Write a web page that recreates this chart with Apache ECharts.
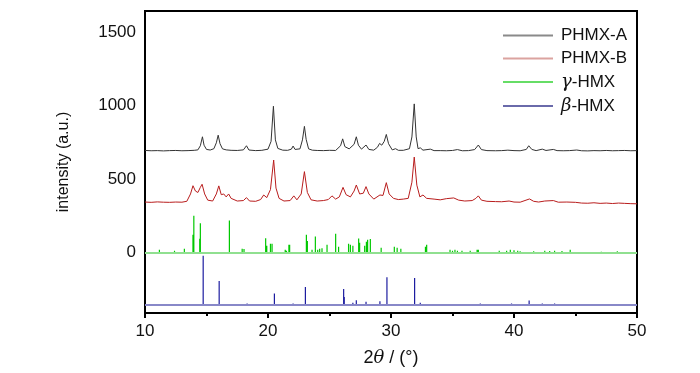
<!DOCTYPE html>
<html><head><meta charset="utf-8">
<script src="https://cdn.jsdelivr.net/npm/echarts@6/dist/echarts.min.js"></script>
<style>html,body{margin:0;padding:0;background:#fff}#c{width:700px;height:373px}</style>
</head><body><div id="c"></div>
<script>
// ---- data ----
const seriesNames = ['PHMX-A', 'PHMX-B', 'γ-HMX', 'β-HMX'];
const yTickLabels = [0, 500, 1000, 1500];
const xTickLabels = [10, 20, 30, 40, 50];

// PHMX-A pattern [2θ, intensity]
const phmxA = [[10,696],[10.5,694],[11,695],[11.5,693],[12,695],[12.5,696],[13,694],[13.5,695],[14,697],[14.3,700],[14.5,728],[14.67,789],[14.8,732],[15,703],[15.3,699],[15.6,708],[15.8,748],[15.95,800],[16.1,742],[16.3,707],[16.6,700],[17,697],[17.5,696],[18,700],[18.25,728],[18.45,699],[19,695],[19.5,697],[20,705],[20.25,758],[20.44,997],[20.6,768],[20.8,710],[21.2,698],[21.6,697],[21.9,705],[22.04,726],[22.2,703],[22.6,707],[22.8,768],[22.96,860],[23.1,772],[23.3,707],[23.6,698],[24,696],[24.5,695],[25,697],[25.5,696],[25.9,728],[26.07,775],[26.25,722],[26.6,707],[27,738],[27.18,789],[27.35,732],[27.6,705],[27.97,733],[28.2,703],[28.6,698],[28.9,718],[29.07,744],[29.25,732],[29.45,758],[29.62,805],[29.8,742],[30.1,700],[30.37,708],[30.6,697],[31,697],[31.5,708],[31.7,788],[31.89,1013],[32.05,788],[32.2,708],[32.38,714],[32.6,698],[33.2,705],[33.5,695],[34,695],[34.5,694],[35,696],[35.4,702],[35.8,694],[36.3,695],[36.8,702],[37.1,733],[37.35,702],[37.8,695],[38.5,694],[39,695],[39.5,698],[40,695],[40.5,694],[41,703],[41.2,728],[41.45,703],[41.8,695],[42.3,705],[42.6,696],[43.2,703],[43.5,695],[44,694],[44.5,695],[45.1,699],[45.5,694],[46,693],[46.5,695],[47,694],[47.5,696],[48,694],[48.5,695],[49,696],[49.5,694],[50,695]];

// PHMX-B pattern [2θ, intensity]
const phmxB = [[10,345],[10.5,343],[11,346],[11.5,344],[12,343],[12.5,345],[13,344],[13.4,350],[13.7,400],[13.9,456],[14.1,420],[14.3,410],[14.5,445],[14.64,466],[14.85,400],[15.1,358],[15.5,352],[15.8,400],[16.0,455],[16.2,395],[16.4,400],[16.6,380],[16.8,400],[17.0,370],[17.5,352],[18.0,355],[18.25,375],[18.5,352],[19,350],[19.4,362],[19.65,393],[19.9,375],[20.2,430],[20.46,631],[20.65,440],[20.9,370],[21.3,352],[21.8,355],[22.1,387],[22.35,360],[22.7,400],[22.96,552],[23.2,410],[23.5,360],[24,352],[24.5,355],[24.9,362],[25.2,387],[25.5,365],[25.8,380],[26.1,445],[26.35,395],[26.7,380],[27.0,420],[27.18,461],[27.45,400],[27.75,405],[27.97,450],[28.2,400],[28.6,365],[29.1,393],[29.35,390],[29.62,477],[29.85,400],[30.2,370],[30.6,362],[31,365],[31.4,370],[31.7,480],[31.89,651],[32.1,460],[32.35,380],[32.6,393],[32.9,370],[33.5,365],[34,360],[34.5,368],[35.1,373],[35.5,358],[36,352],[36.6,355],[36.9,370],[37.1,387],[37.35,358],[37.8,350],[38.5,348],[39,347],[39.6,352],[40,345],[40.5,344],[41.26,366],[41.6,350],[42,345],[42.5,352],[43.2,355],[43.6,344],[44.3,345],[45,343],[45.5,338],[46,337],[46.5,340],[47,336],[47.5,338],[48,335],[48.5,338],[49,336],[49.5,334],[50,333]];

// γ-HMX reference sticks [2θ, relative intensity], baseline offset
const gammaBase = 0;
const gammaSticks = [[11.17,20],[12.4,14],[13.2,27],[13.9,122],[13.97,251],[14.45,95],[14.5,201],[16.86,219],[17.9,27],[18.05,25],[19.81,99],[19.9,47],[20.2,61],[20.33,61],[21.4,20],[21.5,14],[21.7,54],[21.76,54],[23.12,122],[23.2,80],[23.58,20],[23.85,111],[24.04,20],[24.2,27],[24.39,30],[24.8,54],[25.5,129],[25.74,41],[26.55,61],[26.7,54],[26.9,47],[27.37,97],[27.45,68],[27.86,47],[28.0,74],[28.1,88],[28.32,93],[29.2,34],[30.27,41],[30.5,34],[30.8,27],[32.8,41],[32.9,54],[34.8,20],[35.0,14],[35.2,20],[35.4,14],[35.77,13],[36.44,14],[37.0,20],[37.1,20],[38.8,14],[39.4,14],[39.7,20],[40.0,17],[40.3,14],[40.5,10],[41.6,10],[42.5,14],[42.9,12],[43.3,14],[43.9,12],[44.57,20],[47.1,7],[48.4,10]];

// β-HMX reference sticks [2θ, relative intensity], baseline offset
const betaBase = -351;
const betaSticks = [[14.73,331],[16.03,158],[18.3,6],[20.52,73],[22.04,6],[23.04,118],[26.15,105],[26.2,50],[26.9,11],[27.18,28],[27.97,18],[29.1,21],[29.67,185],[31.92,180],[32.38,11],[37.26,5],[39.8,5],[41.23,26],[42.3,5],[43.3,5],[45.0,4],[48.0,4]];

// ---- build ----
function stickPath(sticks, base) {
  const out = [];
  sticks.forEach(s => { out.push([s[0], base]); out.push([s[0], base + s[1]]); out.push([s[0], '-']); });
  return out;
}
const F = 'Liberation Sans, Arial, sans-serif';
const chart = echarts.init(document.getElementById('c'), null, {renderer: 'canvas'});
chart.setOption({
  animation: false,
  grid: {left: 145, right: 63, top: 11, bottom: 60, show: true, borderColor: '#000', borderWidth: 2, backgroundColor: 'transparent'},
  legend: {
    orient: 'vertical', left: 498, top: 22, itemWidth: 50, itemHeight: 2, itemGap: 6, icon: 'rect',
    data: [
      {name: seriesNames[0], itemStyle: {color: '#8a8a8a'}},
      {name: seriesNames[1], itemStyle: {color: '#dba3a0'}},
      {name: seriesNames[2], itemStyle: {color: '#66dd66'}},
      {name: seriesNames[3], itemStyle: {color: '#6a6aaa'}}
    ],
    formatter: n => n.charAt(1) === '-' ? '{i|' + n.charAt(0) + '}-HMX' : n,
    textStyle: {fontFamily: F, fontSize: 17, color: '#111', lineHeight: 16, padding: [0,0,0,3],
      rich: {i: {fontFamily: 'DejaVu Serif, serif', fontStyle: 'italic', fontSize: 18, color: '#111'}}}
  },
  xAxis: {
    type: 'value', min: 10, max: 50, interval: 10,
    axisLine: {show: true, onZero: false, lineStyle: {color: '#000', width: 2}},
    axisTick: {show: true, inside: false, length: 5, lineStyle: {color: '#000', width: 2}},
    minorTick: {show: true, splitNumber: 2, length: 3, lineStyle: {color: '#000', width: 2}},
    splitLine: {show: false},
    axisLabel: {fontFamily: F, fontSize: 17, color: '#111', margin: 10,
      customValues: xTickLabels, formatter: v => String(v)},
    name: '2{i|θ} / (°)', nameLocation: 'middle', nameGap: 36,
    nameTextStyle: {fontFamily: F, fontSize: 18, color: '#111',
      rich: {i: {fontFamily: 'DejaVu Serif, serif', fontStyle: 'italic', fontSize: 18, color: '#111'}}}
  },
  yAxis: {
    type: 'value', min: -410, max: 1645,
    axisLine: {show: true, onZero: false, lineStyle: {color: '#000', width: 2}},
    axisTick: {show: false},
    splitLine: {show: false},
    axisLabel: {fontFamily: F, fontSize: 17, color: '#111', margin: 9, customValues: yTickLabels, formatter: v => String(v)},
    name: 'intensity (a.u.)', nameLocation: 'middle', nameGap: 73,
    nameTextStyle: {fontFamily: F, fontSize: 16, color: '#111'}
  },
  series: [
    {name: seriesNames[0], type: 'line', data: phmxA, showSymbol: false, symbol: 'none', lineStyle: {color: '#333', width: 1}, itemStyle: {color: '#333'}, z: 4},
    {name: seriesNames[1], type: 'line', data: phmxB, showSymbol: false, symbol: 'none', lineStyle: {color: '#b81c1c', width: 1}, itemStyle: {color: '#b81c1c'}, z: 4},
    {name: seriesNames[2], type: 'line', data: stickPath(gammaSticks, gammaBase), showSymbol: false, symbol: 'none', connectNulls: false, lineStyle: {color: '#00c800', width: 1.2}, itemStyle: {color: '#00c800'}, z: 4,
      markLine: {silent: true, symbol: 'none', label: {show: false}, lineStyle: {color: '#90e090', width: 2, type: 'solid'}, data: [{yAxis: gammaBase}]}},
    {name: seriesNames[3], type: 'line', data: stickPath(betaSticks, betaBase), showSymbol: false, symbol: 'none', connectNulls: false, lineStyle: {color: '#1c1ca0', width: 1.2}, itemStyle: {color: '#1c1ca0'}, z: 4,
      markLine: {silent: true, symbol: 'none', label: {show: false}, lineStyle: {color: '#8888c8', width: 2, type: 'solid'}, data: [{yAxis: betaBase}]}}
  ]
});
</script></body></html>
